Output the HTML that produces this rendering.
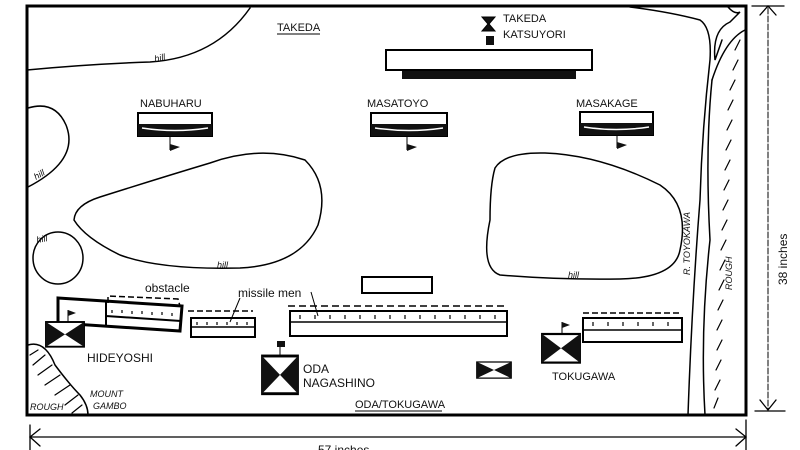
<!DOCTYPE html>
<html><head><meta charset="utf-8"><style>
html,body{margin:0;padding:0;background:#fff}
svg{display:block}
text{font-family:"Liberation Sans",sans-serif;fill:#111}
</style></head><body>
<svg width="800" height="450" viewBox="0 0 800 450" xmlns="http://www.w3.org/2000/svg">
<defs>
<g id="bow"><rect x="0" y="0" width="40" height="26" fill="#fff" stroke="#000" stroke-width="2"/><path d="M0,0 L20,13 L0,26Z M40,0 L20,13 L40,26Z" fill="#111"/></g>
</defs>
<g fill="none" stroke="#000" stroke-linecap="round">
<path d="M27,6 L746,6 L746,415 L27,415 Z" stroke-width="3"/>
<path d="M30,437 L745,437" stroke-width="1.3"/>
<path d="M40,429 L30,437 L40,446 M736,429 L746,437 L736,446" stroke-width="1.3"/>
<path d="M30,425 L30,450 M746,420 L746,450" stroke-width="1.3"/>
<path d="M768,8 L768,410" stroke-width="1" stroke-dasharray="6,2"/>
<path d="M760,15 L768,6 L776,15 M760,400 L768,410 L776,400 M752,6 L784,6 M755,411 L785,411" stroke-width="1.3"/>
<path d="M27,70 Q90,64 150,62 Q215,58 250,8" stroke-width="1.5"/>
<path d="M28,108 Q55,100 66,125 Q80,160 28,187" stroke-width="1.5"/>
<ellipse cx="58" cy="258" rx="25" ry="26" stroke-width="1.5"/>
<path d="M74,220 Q75,205 100,197 Q160,178 210,163 Q260,145 305,160 Q330,185 318,225 Q300,265 240,268 Q160,270 120,255 Q85,238 74,220Z" stroke-width="1.5"/>
<path d="M495,168 Q505,152 545,153 Q600,155 660,185 Q690,205 680,250 Q675,278 620,279 Q560,280 500,275 Q480,268 490,220 Q490,185 495,168Z" stroke-width="1.5"/>
<path d="M630,7 Q670,12 700,20 Q712,28 710,60 Q702,130 700,200 Q692,300 688,415" stroke-width="1.5"/>
<path d="M728,7 Q735,15 740,12 L730,22 Q712,30 715,60 L722,40 M712,80 Q705,150 710,240 Q700,330 705,415" stroke-width="1.5"/>
<path d="M712,80 Q725,40 745,30" stroke-width="1.5"/>
<g stroke-width="1.2">
<path d="M740,40 L735,50 M738,60 L733,70 M735,80 L730,90 M733,100 L728,110 M732,120 L727,130 M731,140 L726,150 M730,160 L725,170 M729,180 L724,190 M728,200 L723,210 M727,220 L722,230 M726,240 L721,250 M725,260 L720,270 M724,280 L719,290 M723,300 L718,310 M722,320 L717,330 M722,340 L717,350 M721,360 L716,370 M720,380 L715,390 M718,398 L714,408"/>
</g>
<path d="M28,345 Q45,340 55,365 Q70,385 80,395 Q88,405 88,415" stroke-width="1.5"/>
<g stroke-width="1.2"><path d="M30,355 L38,350 M33,365 L45,355 M38,375 L52,365 M45,385 L60,375 M55,395 L70,385 M65,405 L78,395 M72,413 L82,405"/></g>
</g>

<rect x="386" y="50" width="206" height="20" fill="#fff" stroke="#000" stroke-width="2"/>
<rect x="402" y="71" width="174" height="8" fill="#111"/>
<path d="M482,17 L495,17 L489,24 L495,31 L482,31 L488,24Z" fill="#111" stroke="#000"/>
<rect x="486" y="36" width="8" height="9" fill="#111"/>
<g>
<rect x="138" y="113" width="74" height="23" fill="#fff" stroke="#000" stroke-width="2"/>
<path d="M138,124 L212,124 L212,136 L138,136Z" fill="#111"/>
<path d="M142,128 Q175,133 208,128" stroke="#fff" fill="none" stroke-width="1.5"/>
<path d="M170,137 L170,150" stroke="#000"/><path d="M170,144 L180,147 L170,151Z" fill="#111"/>
<rect x="371" y="113" width="76" height="23" fill="#fff" stroke="#000" stroke-width="2"/>
<path d="M371,124 L447,124 L447,136 L371,136Z" fill="#111"/>
<path d="M375,128 Q409,133 443,128" stroke="#fff" fill="none" stroke-width="1.5"/>
<path d="M407,137 L407,150" stroke="#000"/><path d="M407,144 L417,147 L407,151Z" fill="#111"/>
<rect x="580" y="112" width="73" height="23" fill="#fff" stroke="#000" stroke-width="2"/>
<path d="M580,123 L653,123 L653,135 L580,135Z" fill="#111"/>
<path d="M584,127 Q616,132 649,127" stroke="#fff" fill="none" stroke-width="1.5"/>
<path d="M617,136 L617,148" stroke="#000"/><path d="M617,142 L627,145 L617,149Z" fill="#111"/>
</g>

<rect x="362" y="277" width="70" height="16" fill="#fff" stroke="#000" stroke-width="2"/>
<g fill="none" stroke="#000">
<path d="M58,298 L182,306 L180,331 L58,323Z" stroke-width="3" fill="#fff"/>
<path d="M106,300 L106,326 M106,316 L181,321" stroke-width="2"/>
<path d="M108,303 L108,296 L178,299 L180,306" stroke-width="1.5" stroke-dasharray="6,3"/>
<path d="M112,310 L112,313 M122,310 L122,313 M132,311 L132,314 M142,311 L142,314 M152,312 L152,315 M162,312 L162,315 M172,313 L172,316" stroke-width="1.2"/>
<rect x="191" y="318" width="64" height="19" stroke-width="2" fill="#fff"/>
<path d="M191,327 L255,327" stroke-width="1.5"/>
<path d="M188,311 L253,311" stroke-width="1.5" stroke-dasharray="6,3"/>
<path d="M197,322 L197,325 M207,322 L207,325 M217,322 L217,325 M227,322 L227,325 M237,322 L237,325 M247,322 L247,325" stroke-width="1.2"/>
<rect x="290" y="311" width="217" height="25" stroke-width="2" fill="#fff"/>
<path d="M290,322 L507,322" stroke-width="1.5"/>
<path d="M288,306 L506,306" stroke-width="1.5" stroke-dasharray="7,4"/>
<path d="M300,315 L300,319 M315,315 L315,319 M330,315 L330,319 M345,315 L345,319 M360,315 L360,319 M375,315 L375,319 M390,315 L390,319 M405,315 L405,319 M420,315 L420,319 M435,315 L435,319 M450,315 L450,319 M465,315 L465,319 M480,315 L480,319 M495,315 L495,319" stroke-width="1.2"/>
<rect x="583" y="318" width="99" height="24" stroke-width="2" fill="#fff"/>
<path d="M583,330 L682,330" stroke-width="1.5"/>
<path d="M583,313 L682,313" stroke-width="1.5" stroke-dasharray="6,3"/>
<path d="M593,322 L593,326 M608,322 L608,326 M623,322 L623,326 M638,322 L638,326 M653,322 L653,326 M668,322 L668,326" stroke-width="1.2"/>
<path d="M240,298 L230,322 M311,292 L318,316" stroke-width="1"/>
</g>
<use href="#bow" transform="translate(46,322) scale(0.95,0.95)"/>
<path d="M68,322 L68,310" stroke="#000"/><path d="M68,310 L76,313 L68,316Z" fill="#111"/>
<use href="#bow" transform="translate(262,356) scale(0.9,1.45)"/>
<path d="M280,356 L280,344" stroke="#000"/><rect x="277" y="341" width="8" height="6" fill="#111"/>
<use href="#bow" transform="translate(477,362) scale(0.85,0.62)"/>
<use href="#bow" transform="translate(542,334) scale(0.95,1.1)"/>
<path d="M562,334 L562,322" stroke="#000"/><path d="M562,322 L570,325 L562,328Z" fill="#111"/>

<g font-size="11">
<text x="277" y="31">TAKEDA</text>
<text x="503" y="22">TAKEDA</text>
<text x="503" y="38">KATSUYORI</text>
<text x="140" y="107">NABUHARU</text>
<text x="367" y="107">MASATOYO</text>
<text x="576" y="107">MASAKAGE</text>
<text x="87" y="362" font-size="12">HIDEYOSHI</text>
<text x="303" y="373" font-size="12">ODA</text>
<text x="303" y="387" font-size="12">NAGASHINO</text>
<text x="552" y="380">TOKUGAWA</text>
<text x="355" y="408">ODA/TOKUGAWA</text>
<text x="145" y="292" font-size="12">obstacle</text>
<text x="238" y="297" font-size="12">missile men</text>
<text x="318" y="454" font-size="12">57 inches</text>
</g>
<path d="M277,34 L320,34 M355,411 L442,411" stroke="#000"/>
<g font-size="9" font-style="italic">
<text x="155" y="62" transform="rotate(-12 155 62)">hill</text>
<text x="36" y="180" transform="rotate(-30 36 180)">hill</text>
<text x="37" y="243" transform="rotate(-10 37 243)">hill</text>
<text x="217" y="268">hill</text>
<text x="568" y="278">hill</text>
<text x="690" y="275" transform="rotate(-90 690 275)">R. TOYOKAWA</text>
<text x="732" y="290" transform="rotate(-90 732 290)">ROUGH</text>
<text x="30" y="410">ROUGH</text>
<text x="90" y="397">MOUNT</text>
<text x="93" y="409">GAMBO</text>
</g>
<text x="787" y="285" font-size="12" transform="rotate(-90 787 285)">38 inches</text>
</svg>
</body></html>
